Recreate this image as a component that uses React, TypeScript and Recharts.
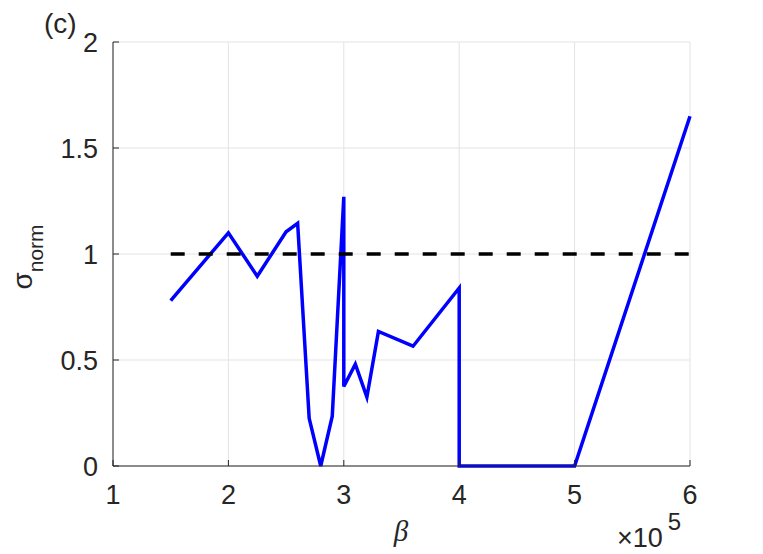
import React from "react"
import { LineChart, Line, XAxis, YAxis, CartesianGrid } from "recharts"

// beta values (raw, axis shows them in units of 1e5)
const beta = [
  150000, 200000, 225000, 250000, 260000, 270000, 280000, 290000, 300000,
  300000, 310000, 320000, 330000, 360000, 400000, 400000, 500000, 600000,
]
const sigmaNorm = [
  0.78, 1.1, 0.895, 1.105, 1.145, 0.225, 0, 0.235, 1.27, 0.375, 0.48, 0.325,
  0.635, 0.565, 0.84, 0, 0, 1.65,
]

// reference level sigma_norm = 1
const refBeta = [150000, 600000]
const refLevel = [1, 1]

const xTicks = [100000, 200000, 300000, 400000, 500000, 600000]
const yTicks = [0, 0.5, 1, 1.5, 2]

const sigmaData = beta.map((b, i) => ({ beta: b, sigma: sigmaNorm[i] }))
const refData = refBeta.map((b, i) => ({ beta: b, sigma: refLevel[i] }))

const font = "'Liberation Sans', Arial, Helvetica, sans-serif"
const ink = "#262626"

const BottomTick = (props: any) => {
  const { x, y, payload } = props
  return (
    <g>
      <line x1={x} y1={y} x2={x} y2={y - 6} stroke={ink} />
      <text x={x} y={y + 38} textAnchor="middle" fontSize={27} fontFamily={font} fill={ink}>
        {payload.value / 100000}
      </text>
    </g>
  )
}

const TopTick = (props: any) => {
  const { x, y } = props
  return <line x1={x} y1={y} x2={x} y2={y + 6} stroke={ink} />
}

const LeftTick = (props: any) => {
  const { x, y, payload } = props
  return (
    <g>
      <line x1={x} y1={y} x2={x + 6} y2={y} stroke={ink} />
      <text x={x - 15} y={y + 10} textAnchor="end" fontSize={27} fontFamily={font} fill={ink}>
        {payload.value}
      </text>
    </g>
  )
}

const RightTick = (props: any) => {
  const { x, y } = props
  return <line x1={x} y1={y} x2={x - 6} y2={y} stroke={ink} />
}

export default function App() {
  return (
    <div style={{ position: "absolute", left: 0, top: 0, width: 763, height: 554, background: "white" }}>
      <LineChart width={763} height={554} margin={{ top: 42, right: 73, bottom: 0, left: 0 }}>
        <CartesianGrid stroke="#e3e3e3" />
        <XAxis
          dataKey="beta"
          type="number"
          domain={[100000, 600000]}
          ticks={xTicks}
          height={88}
          tickSize={0}
          tickMargin={0}
          tickLine={false}
          tick={<BottomTick />}
          axisLine={{ stroke: ink }}
          allowDuplicatedCategory={false}
        />
        <XAxis
          xAxisId="top"
          orientation="top"
          dataKey="beta"
          type="number"
          domain={[100000, 600000]}
          ticks={xTicks}
          height={0}
          tickSize={0}
          tickMargin={0}
          tickLine={false}
          tick={<TopTick />}
          axisLine={{ stroke: ink }}
        />
        <YAxis
          type="number"
          domain={[0, 2]}
          ticks={yTicks}
          width={113}
          tickSize={0}
          tickMargin={0}
          tickLine={false}
          tick={<LeftTick />}
          axisLine={{ stroke: ink }}
        />
        <YAxis
          yAxisId="right"
          orientation="right"
          type="number"
          domain={[0, 2]}
          ticks={yTicks}
          width={0}
          tickSize={0}
          tickMargin={0}
          tickLine={false}
          tick={<RightTick />}
          axisLine={{ stroke: ink }}
        />
        <Line
          data={sigmaData}
          dataKey="sigma"
          type="linear"
          stroke="#0000ff"
          strokeWidth={3.5}
          dot={false}
          isAnimationActive={false}
        />
        <Line
          data={refData}
          dataKey="sigma"
          xAxisId="top"
          yAxisId="right"
          type="linear"
          stroke="#000000"
          strokeWidth={3.5}
          strokeDasharray="14 14"
          dot={false}
          isAnimationActive={false}
        />
      </LineChart>
      <svg
        width={763}
        height={554}
        style={{ position: "absolute", left: 0, top: 0, pointerEvents: "none" }}
      >
        <text x={44} y={33} fontSize={28} fontFamily={font} fill={ink}>
          (c)
        </text>
        <text
          x={401}
          y={541}
          textAnchor="middle"
          fontSize={29}
          fontStyle="italic"
          fontFamily="'Liberation Serif', 'DejaVu Serif', serif"
          fill={ink}
        >
          β
        </text>
        <text x={617} y={547} fontSize={27} fontFamily={font} fill={ink}>
          ×10
          <tspan fontSize={24} dy={-17} dx={5}>
            5
          </tspan>
        </text>
        <text
          transform="translate(32,257) rotate(-90)"
          textAnchor="middle"
          fontFamily={font}
          fill={ink}
        >
          <tspan fontSize={28}>σ</tspan>
          <tspan fontSize={21} dy={11}>
            norm
          </tspan>
        </text>
      </svg>
    </div>
  )
}
